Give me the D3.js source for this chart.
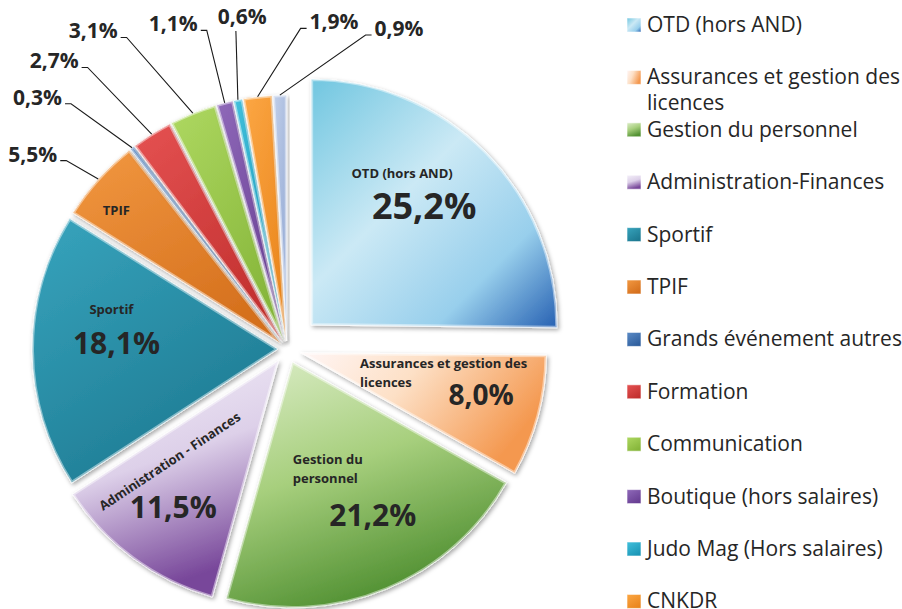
<!DOCTYPE html>
<html>
<head>
<meta charset="utf-8">
<script src="https://cdn.jsdelivr.net/npm/d3@7"></script>
<style>
  body { margin: 0; background: #fff; }
  svg { display: block; font-family: "Open Sans", sans-serif; }
</style>
</head>
<body>
<div id="chart"></div>
<script>
// slices, clockwise from 12 o'clock
const categories = [
  'OTD (hors AND)',
  'Assurances et gestion des licences',
  'Gestion du personnel',
  'Administration-Finances',
  'Sportif',
  'TPIF',
  'Grands événement autres',
  'Formation',
  'Communication',
  'Boutique (hors salaires)',
  'Judo Mag (Hors salaires)',
  'CNKDR',
  'Autres',
];
const shares = [25.2, 8.0, 21.2, 11.5, 18.1, 5.5, 0.3, 2.7, 3.1, 1.1, 0.6, 1.9, 0.9];

// labels written inside the big slices
const insideNames = {
  'OTD (hors AND)': ['OTD (hors AND)'],
  'Assurances et gestion des licences': ['Assurances et gestion des', 'licences'],
  'Gestion du personnel': ['Gestion du', 'personnel'],
  'Administration-Finances': ['Administration - Finances'],
  'Sportif': ['Sportif'],
  'TPIF': ['TPIF'],
};

const W = 902;
const H = 609;
const cx = 287;
const cy = 349;
const R = 246;

const colors = {
  'OTD (hors AND)': { v: [0, 0, 1, 1], stops: [[0, '#70c6e0'], [0.42, '#cbe9f5'], [0.75, '#98cfec'], [1, '#2660b2']] },
  'Assurances et gestion des licences': { v: [0, 0, 1, 0.4], stops: [[0, '#fff6f6'], [0.45, '#fde0c6'], [1, '#f4984f']] },
  'Gestion du personnel': { v: [0, 0, 0.4, 1], stops: [[0, '#dcedc8'], [0.5, '#a7cf7d'], [1, '#539234']] },
  'Administration-Finances': { v: [0, 0, 0.3, 1], stops: [[0, '#f4f0f9'], [0.5, '#ddd0e9'], [1, '#78479a']] },
  'Sportif': { v: [0, 0, 0.6, 1], stops: [[0, '#37a4bd'], [1, '#1e7a92']] },
  'TPIF': { v: [0, 0, 0.6, 1], stops: [[0, '#f29841'], [1, '#d5701d']] },
  'Grands événement autres': { v: [0, 0, 0.6, 1], stops: [[0, '#5b8bc6'], [1, '#2f5f9e']] },
  'Formation': { v: [0, 0, 0.6, 1], stops: [[0, '#e55252'], [1, '#c2302f']] },
  'Communication': { v: [0, 0, 0.6, 1], stops: [[0, '#aed861'], [1, '#86b63a']] },
  'Boutique (hors salaires)': { v: [0, 0, 0.6, 1], stops: [[0, '#8f69b9'], [1, '#683f93']] },
  'Judo Mag (Hors salaires)': { v: [0, 0, 0.6, 1], stops: [[0, '#41c0dc'], [1, '#1c97b7']] },
  'CNKDR': { v: [0, 0, 0.6, 1], stops: [[0, '#fca744'], [1, '#ea861d']] },
  'Autres': { v: [0, 0, 0.6, 1], stops: [[0, '#c2d0ea'], [1, '#93a9d4']] },
};

// how far each slice is pulled out of the pie
const explode = {
  'OTD (hors AND)': 34,
  'Assurances et gestion des licences': 14,
  'Gestion du personnel': 14,
  'Administration-Finances': 14,
  'Sportif': 9,
};

// inside label placement, offsets from the slice centroid
const insideLayout = {
  'OTD (hors AND)': { t: [-14, -43], v: [8, -2], size: 36, anchor: 'middle' },
  'Assurances et gestion des licences': { t: [-83, -23], v: [38, 14], size: 28, anchor: 'start' },
  'Gestion du personnel': { t: [-56, -34], v: [24, 28], size: 30, anchor: 'start' },
  'Administration-Finances': { t: [-19, -14], v: [-18, 39], size: 30, anchor: 'middle', rotate: -33.5 },
  'Sportif': { t: [-19, -36], v: [-14, 4], size: 30, anchor: 'middle' },
  'TPIF': { t: [-55, -30], anchor: 'middle' },
};

// outside labels: [angle in degrees, distance from pie centre]
const callouts = {
  'TPIF': [307.4, 320],
  'Grands événement autres': [315.2, 354],
  'Formation': [321.0, 370],
  'Communication': [328.6, 372],
  'Boutique (hors salaires)': [340.7, 344],
  'Judo Mag (Hors salaires)': [352.3, 335],
  'CNKDR': [8.2, 330],
  'Autres': [19.3, 339],
};

const fmt = (v) => `${d3.format('.1f')(v).replace('.', ',')}%`;

const svg = d3.select('#chart').append('svg')
  .attr('width', W)
  .attr('height', H);

const defs = svg.append('defs');

const shadow = defs.append('filter')
  .attr('id', 'shadow')
  .attr('x', '-20%').attr('y', '-20%')
  .attr('width', '140%').attr('height', '140%');
shadow.append('feDropShadow')
  .attr('dx', 1.5).attr('dy', 2)
  .attr('stdDeviation', 2)
  .attr('flood-color', '#000')
  .attr('flood-opacity', 0.35);

categories.forEach((name, i) => {
  const c = colors[name];
  const g = defs.append('linearGradient')
    .attr('id', `grad${i}`)
    .attr('x1', c.v[0]).attr('y1', c.v[1])
    .attr('x2', c.v[2]).attr('y2', c.v[3]);
  c.stops.forEach(([o, col]) => {
    g.append('stop').attr('offset', o).attr('stop-color', col);
  });
});

const rows = categories.map((name, i) => ({ name, share: shares[i], i }));

const pie = d3.pie()
  .sort(null)
  .value((d) => d.share);

const arc = d3.arc()
  .innerRadius(0)
  .outerRadius(R);

const arcs = pie(rows);
const mid = (a) => (a.startAngle + a.endAngle) / 2;
const apex = (a) => {
  const m = mid(a);
  const e = explode[a.data.name] || 8;
  return [cx + Math.sin(m) * e, cy - Math.cos(m) * e];
};

const slices = svg.append('g')
  .attr('class', 'slices')
  .selectAll('g')
  .data(arcs)
  .enter()
  .append('g')
  .attr('transform', (d) => `translate(${apex(d)[0]}, ${apex(d)[1]})`);

slices.append('clipPath')
  .attr('id', (d) => `clip${d.data.i}`)
  .append('path')
  .attr('d', arc);

slices.append('path')
  .attr('d', arc)
  .attr('fill', (d) => `url(#grad${d.data.i})`)
  .attr('stroke', '#ffffff')
  .attr('stroke-width', 0.8)
  .attr('filter', 'url(#shadow)');

// soft bevel along the slice edges
slices.append('path')
  .attr('d', arc)
  .attr('fill', 'none')
  .attr('stroke', 'rgba(255,255,255,0.45)')
  .attr('stroke-width', 4)
  .attr('clip-path', (d) => `url(#clip${d.data.i})`);

// inside labels
const inner = svg.append('g').attr('class', 'inside-labels')
  .attr('fill', '#262626')
  .attr('font-weight', 700);

arcs.forEach((a) => {
  const lay = insideLayout[a.data.name];
  if (!lay) { return; }
  const [ax, ay] = apex(a);
  const m = mid(a);
  const px = ax + Math.sin(m) * R * 0.6;
  const py = ay - Math.cos(m) * R * 0.6;

  const tx = px + lay.t[0];
  const ty = py + lay.t[1];
  const t = inner.append('text')
    .attr('font-size', 13)
    .attr('text-anchor', lay.anchor)
    .attr('transform', `translate(${tx}, ${ty})${lay.rotate ? ` rotate(${lay.rotate})` : ''}`);
  insideNames[a.data.name].forEach((line, k) => {
    t.append('tspan')
      .attr('x', 0)
      .attr('y', k * 19)
      .text(line);
  });

  if (lay.v) {
    inner.append('text')
      .attr('x', px + lay.v[0])
      .attr('y', py + lay.v[1])
      .attr('font-size', lay.size)
      .attr('text-anchor', 'middle')
      .text(fmt(a.data.share));
  }
});

// outside labels with leader lines
const outer = svg.append('g').attr('class', 'callouts');

arcs.forEach((a) => {
  const spot = callouts[a.data.name];
  if (!spot) { return; }
  const th = (spot[0] * Math.PI) / 180;
  const lx = cx + Math.sin(th) * spot[1];
  const ly = cy - Math.cos(th) * spot[1];

  const txt = outer.append('text')
    .attr('x', lx)
    .attr('y', ly + 7)
    .attr('text-anchor', 'middle')
    .attr('font-size', 21)
    .attr('font-weight', 700)
    .attr('fill', '#262626')
    .text(fmt(a.data.share));
  const hw = txt.node().getComputedTextLength() / 2;

  const [ax, ay] = apex(a);
  const m = mid(a);
  const ex = ax + Math.sin(m) * R;
  const ey = ay - Math.cos(m) * R;

  let pts;
  if (ex > lx + hw) {
    pts = [[lx + hw + 3, ly + 6], [lx + hw + 9, ly + 6], [ex, ey]];
  } else if (ex < lx - hw) {
    pts = [[lx - hw - 3, ly + 6], [lx - hw - 9, ly + 6], [ex, ey]];
  } else {
    pts = [[ex - 2, ly + 14], [ex, ey]];
  }

  outer.append('path')
    .attr('d', d3.line()(pts))
    .attr('fill', 'none')
    .attr('stroke', '#1a1a1a')
    .attr('stroke-width', 1.1);
});

// legend, it runs down to the bottom edge like the original
const legend = svg.append('g').attr('class', 'legend')
  .attr('transform', 'translate(627, 25)');

const legendRow = d3.scaleLinear()
  .domain([0, 1])
  .range([0, 52.4]);

const item = legend.selectAll('g')
  .data(rows.filter((d) => 25 + legendRow(d.i) < H))
  .enter()
  .append('g')
  .attr('transform', (d) => `translate(0, ${legendRow(d.i)})`);

item.append('rect')
  .attr('x', 0)
  .attr('y', -7)
  .attr('width', 14)
  .attr('height', 14)
  .attr('fill', (d) => `url(#grad${d.i})`)
  .attr('stroke', 'rgba(255,255,255,0.6)')
  .attr('stroke-width', 1);

item.each(function wrap(d) {
  const t = d3.select(this).append('text')
    .attr('x', 20)
    .attr('y', 7)
    .attr('font-size', 21)
    .attr('fill', '#262626');
  const words = d.name.split(' ');
  let line = [];
  let tspan = t.append('tspan').attr('x', 20).attr('dy', 0);
  words.forEach((w) => {
    line.push(w);
    tspan.text(line.join(' '));
    if (tspan.node().getComputedTextLength() > 262 && line.length > 1) {
      line.pop();
      tspan.text(line.join(' '));
      line = [w];
      tspan = t.append('tspan').attr('x', 20).attr('dy', 26).text(w);
    }
  });
});
</script>
</body>
</html>
